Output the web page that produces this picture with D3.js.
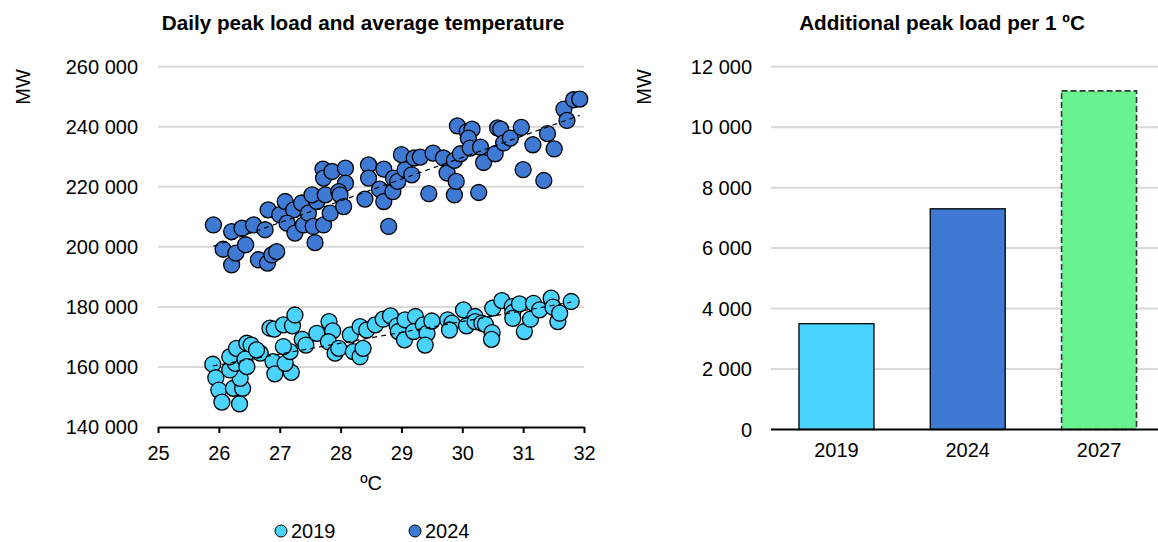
<!DOCTYPE html>
<html><head><meta charset="utf-8">
<script src="https://cdn.jsdelivr.net/npm/d3@7/dist/d3.min.js"></script>
<style>
html,body{margin:0;padding:0;background:#fff;}
svg text{font-family:"Liberation Sans",Arial,sans-serif;fill:#000;}
</style></head>
<body>
<svg id="c" width="1158" height="542"></svg>
<script>
// ---------- DATA ----------
const seriesNames = ["2019", "2024"];
const xTicks = [25, 26, 27, 28, 29, 30, 31, 32];
const yTicksLeft = [140000, 160000, 180000, 200000, 220000, 240000, 260000];
const yTicksRight = [0, 2000, 4000, 6000, 8000, 10000, 12000];

// 2019: temperature ºC and peak load MW
const temp2019 = [25.90,25.95,26.00,26.05,26.34,26.24,26.39,26.35,26.18,26.27,26.18,26.29,26.46,26.53,26.43,26.46,26.68,26.62,26.89,26.92,27.19,27.09,27.17,27.06,26.84,26.91,27.06,27.21,27.25,27.37,27.43,27.61,27.81,27.87,27.80,27.91,27.97,28.16,28.21,28.32,28.32,28.43,28.37,28.57,28.70,28.82,28.93,28.95,29.05,29.06,29.23,29.20,29.36,29.42,29.39,29.50,29.76,29.83,29.79,30.02,30.07,30.21,30.21,30.32,30.38,30.49,30.48,30.50,30.65,30.82,30.83,30.83,30.94,31.02,31.12,31.17,31.27,31.46,31.49,31.57,31.60,31.79];
const load2019 = [160900,156400,152300,148300,147700,152900,152900,156200,159000,161200,163400,166200,167900,167300,162600,160100,164600,165700,161800,157700,158200,161200,165100,166800,172900,172600,174000,173700,177300,169200,167300,171200,175100,172000,168400,164600,166200,170700,165100,163400,173400,172300,166200,174000,175900,177000,173700,171800,169000,175700,176800,171800,174000,171200,167300,175300,175700,174600,172300,179000,173700,176800,175100,174600,174200,171400,169200,179600,182100,180100,178100,176200,181000,171800,175900,181200,179000,182900,179900,175100,177900,181800];

// 2024
const temp2024 = [25.91,26.21,26.38,26.57,26.76,26.07,26.21,26.28,26.44,26.65,26.80,26.87,26.95,26.81,27.00,27.09,27.23,27.12,27.25,27.39,27.36,27.47,27.55,27.58,27.61,27.53,27.72,27.83,27.75,27.71,27.72,27.86,28.08,28.08,27.97,27.99,28.05,28.46,28.46,28.40,28.71,28.64,28.71,28.79,28.86,28.87,28.94,29.06,29.00,29.17,29.21,29.31,29.45,29.52,29.69,29.75,29.87,29.87,29.90,29.97,29.92,30.08,30.16,30.10,30.13,30.30,30.27,30.35,30.54,30.58,30.63,30.68,30.79,30.97,31.00,31.16,31.34,31.40,31.51,31.67,31.72,31.83,31.93];
const load2024 = [207300,205100,206200,207300,205700,199200,194000,197900,200700,195700,194600,197300,198400,212300,210700,215100,212300,207900,204600,207300,214600,211200,206800,201400,215100,217300,207300,211200,217300,225900,222900,225100,226200,221200,218400,217300,213400,227300,222900,215900,225900,219200,215100,206800,218400,222900,221800,225700,230700,224000,229600,229900,217700,231200,229600,224600,228800,217300,221800,231000,240300,238400,239200,236200,232900,233200,218100,228100,231000,239600,239200,234600,236200,239800,225700,234000,222100,237700,232600,245900,242100,249000,249200];

// bar chart
const barYears = ["2019", "2024", "2027"];
const barValues = [3500, 7300, 11200];

// ---------- STYLE ----------
const colors = {"2019": "#4AD3FF", "2024": "#3E79D3", "2027": "#69F390"};
const fmt = v => d3.format(",")(v).replace(/,/g, " ");

const svg = d3.select("#c");
const FS = 20;
const TFS = 20.7;

// ---------- LEFT: scatter ----------
const x = d3.scaleLinear().domain([25, 32]).range([158, 584]);
const y = d3.scaleLinear().domain([140000, 260000]).range([427, 66.7]);

const gL = svg.append("g");
gL.append("g").selectAll("line").data(yTicksLeft.slice(1)).join("line")
  .attr("x1", x(25)).attr("x2", x(32))
  .attr("y1", d => y(d)).attr("y2", d => y(d))
  .attr("stroke", "#D9D9D9").attr("stroke-width", 2);

gL.append("g").selectAll("text").data(yTicksLeft).join("text")
  .attr("x", 138).attr("y", d => y(d)).attr("dy", "0.35em")
  .attr("text-anchor", "end").attr("font-size", FS).text(fmt);

const xAxis = d3.axisBottom(x).tickValues(xTicks).tickSize(6).tickSizeOuter(0).tickFormat(d3.format("d"));
const gx = gL.append("g").attr("transform", `translate(0,${y(140000)})`).call(xAxis);
gx.select(".domain").attr("stroke", "#000").attr("stroke-width", 2);
gx.selectAll(".tick line").attr("stroke", "#000").attr("stroke-width", 2);
gx.selectAll(".tick text").attr("font-size", FS).attr("font-family", "Liberation Sans, Arial, sans-serif").attr("fill", "#000").attr("dy", "0").attr("y", 33);

gL.append("text").attr("x", 371).attr("y", 490).attr("text-anchor", "middle").attr("font-size", FS).text("ºC");
gL.append("text").attr("transform", "translate(30,87) rotate(-90)").attr("text-anchor", "middle").attr("font-size", FS).text("MW");
gL.append("text").attr("x", 363).attr("y", 29.5).attr("text-anchor", "middle").attr("font-size", TFS).attr("font-weight", "bold").text("Daily peak load and average temperature");

const series = [
  {name: "2019", xs: temp2019, ys: load2019},
  {name: "2024", xs: temp2024, ys: load2024}
];

series.forEach(s => {
  const pts = s.xs.map((t, i) => [t, s.ys[i]]);
  gL.append("g").selectAll("circle").data(pts).join("circle")
    .attr("cx", d => x(d[0])).attr("cy", d => y(d[1])).attr("r", 8)
    .attr("fill", colors[s.name]).attr("stroke", "#000").attr("stroke-width", 1.3);
});

// linear trend lines (least squares)
series.forEach(s => {
  const n = s.xs.length;
  const mx = d3.mean(s.xs), my = d3.mean(s.ys);
  let sxy = 0, sxx = 0;
  for (let i = 0; i < n; i++) { sxy += (s.xs[i]-mx)*(s.ys[i]-my); sxx += (s.xs[i]-mx)**2; }
  const b = sxy / sxx, a = my - b*mx;
  const [x0, x1] = d3.extent(s.xs);
  gL.append("line")
    .attr("x1", x(x0)).attr("y1", y(a + b*x0))
    .attr("x2", x(x1)).attr("y2", y(a + b*x1))
    .attr("stroke", "#000").attr("stroke-width", 1.2).attr("stroke-dasharray", "5,4");
});

// legend
const leg = gL.append("g");
const legX = [281, 415];
seriesNames.forEach((nm, i) => {
  leg.append("circle").attr("cx", legX[i]).attr("cy", 531).attr("r", 6)
    .attr("fill", colors[nm]).attr("stroke", "#000").attr("stroke-width", 1);
  leg.append("text").attr("x", legX[i] + 10).attr("y", 538).attr("font-size", FS).text(nm);
});

// ---------- RIGHT: bars ----------
const xb = d3.scaleBand().domain(barYears).range([771, 1164.5]).paddingInner(0.429).paddingOuter(0.213);
const yb = d3.scaleLinear().domain([0, 12000]).range([429.5, 66.7]);

const gR = svg.append("g");
gR.append("g").selectAll("line").data(yTicksRight.slice(1)).join("line")
  .attr("x1", 771).attr("x2", 1158)
  .attr("y1", d => yb(d)).attr("y2", d => yb(d))
  .attr("stroke", "#D9D9D9").attr("stroke-width", 2);

gR.append("g").selectAll("text").data(yTicksRight).join("text")
  .attr("x", 752).attr("y", d => yb(d)).attr("dy", "0.35em")
  .attr("text-anchor", "end").attr("font-size", FS).text(fmt);

gR.append("g").selectAll("rect").data(barYears.map((yr, i) => ({yr, v: barValues[i]}))).join("rect")
  .attr("x", d => xb(d.yr)).attr("width", xb.bandwidth())
  .attr("y", d => yb(d.v)).attr("height", d => yb(0) - yb(d.v))
  .attr("fill", d => colors[d.yr])
  .attr("stroke", d => d.yr === "2027" ? "#333" : "#000")
  .attr("stroke-width", d => d.yr === "2027" ? 1.6 : 1.3)
  .attr("stroke-dasharray", d => d.yr === "2027" ? "6,3" : null);

gR.append("line").attr("x1", 771).attr("x2", 1158).attr("y1", yb(0)).attr("y2", yb(0))
  .attr("stroke", "#000").attr("stroke-width", 2);

gR.append("g").selectAll("text").data(barYears).join("text")
  .attr("x", d => xb(d) + xb.bandwidth()/2).attr("y", 457)
  .attr("text-anchor", "middle").attr("font-size", FS).text(d => d);

gR.append("text").attr("transform", "translate(651,87) rotate(-90)").attr("text-anchor", "middle").attr("font-size", FS).text("MW");
gR.append("text").attr("x", 942).attr("y", 29.5).attr("text-anchor", "middle").attr("font-size", TFS).attr("font-weight", "bold").text("Additional peak load per 1 ºC");
</script>
</body></html>
